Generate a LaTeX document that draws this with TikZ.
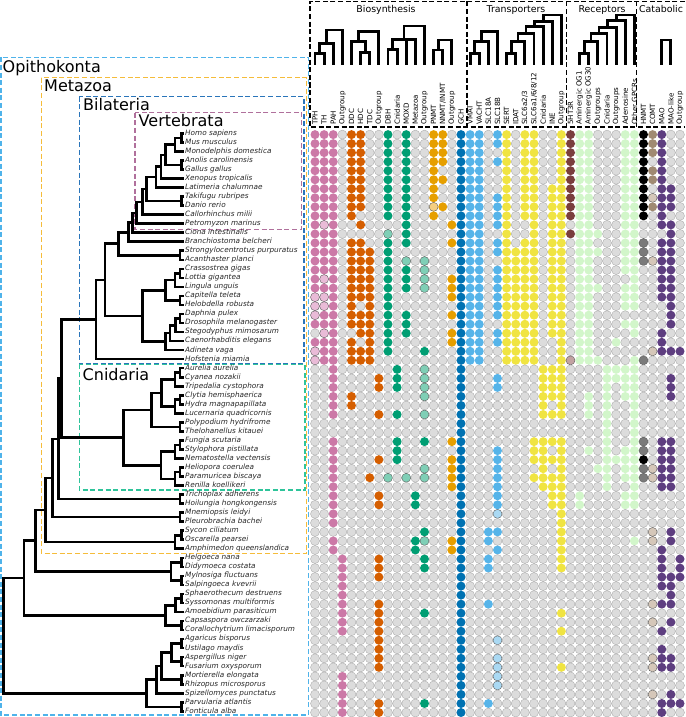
\documentclass[tikz,border=0pt]{standalone}
\usepackage{fontspec}
\setmainfont{DejaVu Sans}
\definecolor{cP}{HTML}{CC79A7}
\definecolor{cp}{HTML}{E9BBD7}
\definecolor{cO}{HTML}{D55E00}
\definecolor{cG}{HTML}{009E73}
\definecolor{cg}{HTML}{7FCFB6}
\definecolor{cY}{HTML}{E69F00}
\definecolor{cy}{HTML}{F4CE80}
\definecolor{cB}{HTML}{0072B2}
\definecolor{cL}{HTML}{56B4E9}
\definecolor{cl}{HTML}{AAD9F3}
\definecolor{cE}{HTML}{F0E442}
\definecolor{cR}{HTML}{7A3E3E}
\definecolor{cr}{HTML}{C2A2A2}
\definecolor{cV}{HTML}{D2F6CA}
\definecolor{ck}{HTML}{7A7A7A}
\definecolor{cT}{HTML}{A08A72}
\definecolor{ct}{HTML}{D5C7B9}
\definecolor{cU}{HTML}{5E3E80}
\definecolor{cgray}{HTML}{DCDCDC}
\definecolor{cedge}{HTML}{A9A9A9}
\definecolor{cedge2}{HTML}{5A5A5A}
\definecolor{bopi}{HTML}{4FB3EA}
\definecolor{bmet}{HTML}{F5BC3A}
\definecolor{bbil}{HTML}{2A75BA}
\definecolor{bver}{HTML}{B0709C}
\definecolor{bcni}{HTML}{2EC49A}
\newcount\gcol
\newcommand\gridrow[2]{\gcol=0 \def\growidx{#1}\gridchars#2\relax}
\def\gridchars#1{\ifx\relax#1\else\advance\gcol by 1\relax\gridcell{#1}\expandafter\gridchars\fi}
\def\gridcell#1{%
  \pgfmathsetmacro\gcx{315+(\the\gcol-1)*9.125}%
  \pgfmathsetmacro\gcy{134.6+(\growidx-1)*9.03}%
  \path[cell#1] (\gcx,\gcy) circle[radius=4.5];}
\newcommand\leaf[3]{%
  \pgfmathsetmacro\ly{133.4+(#2-1)*9.03}%
  \expandafter\xdef\csname ty@#1\endcsname{\ly}%
  \coordinate (t#1) at (184,\ly);
  \node[sp] (#1) at (185,\ly) {#3};}
\newcommand\clade[4]{%
  \pgfmathsetmacro\cly{(\csname ty@#3\endcsname+\csname ty@#4\endcsname)/2}%
  \expandafter\xdef\csname ty@#1\endcsname{\cly}%
  \coordinate (t#1) at (#2,\cly);
  \draw[treeline] (t#3) -| (t#1) |- (t#4);}
\newcommand\hclade[4]{%
  \pgfmathsetmacro\hcx{(\csname hx@#3\endcsname+\csname hx@#4\endcsname)/2}%
  \expandafter\xdef\csname hx@#1\endcsname{\hcx}%
  \coordinate (h#1) at (\hcx,#2);
  \draw[htree] (h#3) |- (h#1) -| (h#4);}
\begin{document}
\begin{tikzpicture}[x=1pt,y=-1pt,
  treeline/.style={line width=2.6pt,line join=miter},
  htree/.style={line width=2.8pt,line join=miter},
  box/.style={line width=1.5pt,dash pattern=on 5pt off 2.6pt},
  sp/.style={anchor=west,inner sep=0pt,font=\fontsize{7.3}{8}\selectfont\itshape,text height=5.3pt,text depth=1.5pt,text=black!85},
  cladelab/.style={anchor=base west,inner sep=0pt,font=\fontsize{16}{18}\selectfont},
  collab/.style={rotate=90,anchor=west,inner sep=0pt,font=\fontsize{7.1}{8}\selectfont},
  grouptitle/.style={anchor=base,inner sep=0pt,font=\fontsize{9.4}{11}\selectfont},
  cell-/.style={fill=cgray,draw=cedge,line width=0.35pt},
  cellP/.style={fill=cP},
  cellp/.style={fill=cp,draw=cedge2,line width=0.4pt},
  cellO/.style={fill=cO},
  cellG/.style={fill=cG},
  cellg/.style={fill=cg,draw=cedge2,line width=0.4pt},
  cellY/.style={fill=cY},
  celly/.style={fill=cy,draw=cedge2,line width=0.4pt},
  cellB/.style={fill=cB},
  cellL/.style={fill=cL},
  celll/.style={fill=cl,draw=cedge2,line width=0.4pt},
  cellE/.style={fill=cE},
  cellR/.style={fill=cR},
  cellr/.style={fill=cr,draw=cedge2,line width=0.4pt},
  cellV/.style={fill=cV},
  cellK/.style={fill=black},
  cellk/.style={fill=ck,draw=cedge2,line width=0.4pt},
  cellT/.style={fill=cT},
  cellt/.style={fill=ct,draw=cedge2,line width=0.4pt},
  cellU/.style={fill=cU}]
\useasboundingbox (0,0) rectangle (685,717);
% clade boxes
\draw[box,bopi] (1,57.3) rectangle (308.3,715);
\draw[box,bmet] (41.3,77.7) rectangle (306.7,553.3);
\draw[box,bbil] (79.3,96.7) rectangle (304,364);
\draw[box,bver] (135,112.7) rectangle (301.7,229.3);
\draw[box,bcni] (79.3,364.3) rectangle (305,490);
\node[cladelab] (lopi) at (2.5,72.3) {Opithokonta};
\node[cladelab] (lmet) at (44,91) {Metazoa};
\node[cladelab] (lbil) at (83,110) {Bilateria};
\node[cladelab] (lver) at (138.5,126.7) {Vertebrata};
\node[cladelab] (lcni) at (82.5,380) {Cnidaria};
% leaves
\leaf{homo}{1}{Homo sapiens}
\leaf{mus}{2}{Mus musculus}
\leaf{mono}{3}{Monodelphis domestica}
\leaf{anolis}{4}{Anolis carolinensis}
\leaf{gallus}{5}{Gallus gallus}
\leaf{xeno}{6}{Xenopus tropicalis}
\leaf{lati}{7}{Latimeria chalumnae}
\leaf{taki}{8}{Takifugu rubripes}
\leaf{danio}{9}{Danio rerio}
\leaf{callo}{10}{Callorhinchus milii}
\leaf{petro}{11}{Petromyzon marinus}
\leaf{ciona}{12}{Ciona intestinalis}
\leaf{branch}{13}{Branchiostoma belcheri}
\leaf{strong}{14}{Strongylocentrotus purpuratus}
\leaf{acan}{15}{Acanthaster planci}
\leaf{crass}{16}{Crassostrea gigas}
\leaf{lottia}{17}{Lottia gigantea}
\leaf{lingula}{18}{Lingula unguis}
\leaf{capit}{19}{Capitella teleta}
\leaf{helob}{20}{Helobdella robusta}
\leaf{daph}{21}{Daphnia pulex}
\leaf{dros}{22}{Drosophila melanogaster}
\leaf{steg}{23}{Stegodyphus mimosarum}
\leaf{caeno}{24}{Caenorhabditis elegans}
\leaf{adin}{25}{Adineta vaga}
\leaf{hofst}{26}{Hofstenia miamia}
\leaf{aurelia}{27}{Aurelia aurelia}
\leaf{cyanea}{28}{Cyanea nozakii}
\leaf{tripe}{29}{Tripedalia cystophora}
\leaf{clytia}{30}{Clytia hemisphaerica}
\leaf{hydra}{31}{Hydra magnapapillata}
\leaf{lucern}{32}{Lucernaria quadricornis}
\leaf{polyp}{33}{Polypodium hydrifrome}
\leaf{thelo}{34}{Thelohanellus kitauei}
\leaf{fungia}{35}{Fungia scutaria}
\leaf{stylo}{36}{Stylophora pistillata}
\leaf{nemato}{37}{Nematostella vectensis}
\leaf{helio}{38}{Heliopora coerulea}
\leaf{param}{39}{Paramuricea biscaya}
\leaf{renilla}{40}{Renilla koellikeri}
\leaf{trich}{41}{Trichoplax adherens}
\leaf{hoil}{42}{Hoilungia hongkongensis}
\leaf{mnem}{43}{Mnemiopsis leidyi}
\leaf{pleuro}{44}{Pleurobrachia bachei}
\leaf{sycon}{45}{Sycon ciliatum}
\leaf{oscar}{46}{Oscarella pearsei}
\leaf{amph}{47}{Amphimedon queenslandica}
\leaf{helg}{48}{Helgoeca nana}
\leaf{didy}{49}{Didymoeca costata}
\leaf{myln}{50}{Mylnosiga fluctuans}
\leaf{salp}{51}{Salpingoeca kvevrii}
\leaf{sphaer}{52}{Sphaerothecum destruens}
\leaf{syss}{53}{Syssomonas multiformis}
\leaf{amoeb}{54}{Amoebidium parasiticum}
\leaf{caps}{55}{Capsaspora owczarzaki}
\leaf{coral}{56}{Corallochytrium limacisporum}
\leaf{agar}{57}{Agaricus bisporus}
\leaf{ust}{58}{Ustilago maydis}
\leaf{asp}{59}{Aspergillus niger}
\leaf{fus}{60}{Fusarium oxysporum}
\leaf{mort}{61}{Mortierella elongata}
\leaf{rhiz}{62}{Rhizopus microsporus}
\leaf{spiz}{63}{Spizellomyces punctatus}
\leaf{parv}{64}{Parvularia atlantis}
\leaf{font}{65}{Fonticula alba}
% tree
\clade{hm}{181.7}{homo}{mus}
\clade{mam}{175}{hm}{mono}
\clade{ag}{181.7}{anolis}{gallus}
\clade{amn}{165.7}{mam}{ag}
\clade{tet}{161}{amn}{xeno}
\clade{sar}{156}{tet}{lati}
\clade{td}{181.7}{taki}{danio}
\clade{ost}{146.7}{sar}{td}
\clade{gna}{142.3}{ost}{callo}
\clade{ver}{136.7}{gna}{petro}
\clade{olf}{132.7}{ver}{ciona}
\clade{cho}{128.3}{olf}{branch}
\clade{ech}{180}{strong}{acan}
\clade{deu}{118.3}{cho}{ech}
\clade{cl}{180}{crass}{lottia}
\clade{moll}{175}{cl}{lingula}
\clade{ann}{180}{capit}{helob}
\clade{lop}{165.7}{moll}{ann}
\clade{dd}{180}{daph}{dros}
\clade{arth}{175.7}{dd}{steg}
\clade{ecd}{170}{arth}{caeno}
\clade{ecr}{165.7}{ecd}{adin}
\clade{pro}{142.7}{lop}{ecr}
\clade{bil}{105}{deu}{pro}
\clade{bilx}{96}{bil}{hofst}
\clade{ac}{180}{aurelia}{cyanea}
\clade{scy}{175}{ac}{tripe}
\clade{ch}{180}{clytia}{hydra}
\clade{hyz}{175}{ch}{lucern}
\clade{sh}{161.7}{scy}{hyz}
\clade{myx}{180}{polyp}{thelo}
\clade{med}{151.7}{sh}{myx}
\clade{fs}{180}{fungia}{stylo}
\clade{hex}{175}{fs}{nemato}
\clade{hp}{180}{helio}{param}
\clade{oct}{175}{hp}{renilla}
\clade{ant}{161}{hex}{oct}
\clade{cni}{123.3}{med}{ant}
\clade{pla}{61.7}{bilx}{cni}
\clade{plac}{180}{trich}{hoil}
\clade{pp}{58.3}{pla}{plac}
\clade{cten}{180}{mnem}{pleuro}
\clade{pc}{52.7}{pp}{cten}
\clade{so}{181.7}{sycon}{oscar}
\clade{por}{175}{so}{amph}
\clade{met}{45.7}{pc}{por}
\clade{hd}{181.7}{helg}{didy}
\clade{ms}{181.7}{myln}{salp}
\clade{choa}{171}{hd}{ms}
\clade{chz}{35.7}{met}{choa}
\clade{ss}{181.7}{sphaer}{syss}
\clade{ich}{175.7}{ss}{amoeb}
\clade{cc}{181.7}{caps}{coral}
\clade{fil}{165.7}{ich}{cc}
\clade{hol}{24}{chz}{fil}
\clade{au}{181.7}{agar}{ust}
\clade{af}{181.7}{asp}{fus}
\clade{dik}{171.7}{au}{af}
\clade{mr}{181.7}{mort}{rhiz}
\clade{fm}{161.7}{dik}{mr}
\clade{fun}{156.7}{fm}{spiz}
\clade{pf}{181.7}{parv}{font}
\clade{hmy}{146.7}{fun}{pf}
\clade{root}{3.3}{hol}{hmy}
% header boxes
\draw[box,black] (685,1.5) -- (310,1.5) -- (310,127) -- (685,127);
\draw[box,black] (467,1.5) -- (467,127);
\draw[box,black] (566.7,1.5) -- (566.7,127);
\draw[box,black] (636.7,1.5) -- (636.7,127);
\node[grouptitle] (tbio) at (386,12.7) {Biosynthesis};
\node[grouptitle] (ttra) at (516,12.7) {Transporters};
\node[grouptitle] (trec) at (602,12.7) {Receptors};
\node[grouptitle] (tcat) at (661,12.7) {Catabolic};
% header leaves and labels
\foreach \c/\t in {1/{TPH},2/{TH},3/{PAH},4/{Outgroup},5/{DDC},6/{HDC},7/{TDC},8/{Outgroup},9/{DBH},10/{Cnidaria},11/{MOXD},12/{Metazoa},13/{Outgroup},14/{PNMT},15/{NNMT/INMT},16/{Outgroup},17/{GCH},18/{VMAT},19/{VACHT},20/{SLC18A},21/{SLC18B},22/{SERT},23/{IDAT},24/{SLC6a2/3},25/{SLC6a1/6/8/12},26/{Cnidaria},27/{INE},28/{Outgroup},29/{5HT3R},30/{Aminergic OG1},31/{Aminergic OG30},32/{Outgroups},33/{Cnidaria},34/{Outgroups},35/{Adenosine},36/{Other GPCRs},37/{HNMT},38/{COMT},39/{MAO},40/{MAO-like},41/{Outgroup}}{
  \pgfmathsetmacro\hx{315+(\c-1)*9.125}
  \expandafter\xdef\csname hx@c\c\endcsname{\hx}
  \coordinate (hc\c) at (\hx,65);
  \node[collab] (lab\c) at (\hx,125) {\t};
}
\hclade{a1}{53.3}{c1}{c2}
\hclade{a2}{43.3}{a1}{c3}
\hclade{a3}{30}{a2}{c4}
\hclade{b1}{52.7}{c6}{c7}
\hclade{b2}{41.7}{c5}{b1}
\hclade{b3}{31.7}{b2}{c8}
\hclade{d1}{49.3}{c9}{c10}
\hclade{d3}{39.3}{d1}{c12}
\draw[htree] (hc11) -- (hc11 |- hd3);
\hclade{d4}{26}{d3}{c13}
\hclade{e1}{50}{c14}{c15}
\hclade{e2}{40}{e1}{c16}
\hclade{f1}{53.3}{c18}{c19}
\hclade{f2}{41.7}{f1}{c20}
\hclade{f3}{31.7}{f2}{c21}
\hclade{g1}{53.3}{c22}{c23}
\hclade{g2}{41.7}{g1}{c24}
\hclade{g3}{33.3}{g2}{c25}
\hclade{g4}{26.7}{g3}{c26}
\hclade{g5}{21.7}{g4}{c27}
\hclade{g6}{15}{g5}{c28}
\hclade{r1}{53.3}{c30}{c31}
\hclade{r2}{41.7}{r1}{c32}
\hclade{r3}{33.3}{r2}{c33}
\hclade{r4}{27.3}{r3}{c34}
\hclade{r5}{20.7}{r4}{c35}
\hclade{r6}{15}{r5}{c36}
\hclade{m1}{40}{c39}{c40}
% grid
\gridrow{1}{PPP-OO--G-G--YY-BLL-LE-EE--ERVV---VVKTU--}
\gridrow{2}{PPP-OO--G-G--YY-BLL-LE-EE--ERVV---VVKTU--}
\gridrow{3}{PPP-OO--G-G--YY-BLL--E-EE--ERVV---VVKTU--}
\gridrow{4}{PPP-OO--G-G--YY-BLL-LE-EE--ERVV---VVK-U--}
\gridrow{5}{PPP-OO--G-G--Y--BLL--E-EE--ERVV---VVKTU--}
\gridrow{6}{PPP-OO--G-G--YY-BLL--E-EE--ERVV---VVKTU--}
\gridrow{7}{PPP-OO--G-G--Y--BLL--E-EE-EERVV---VVK-UU-}
\gridrow{8}{PPP-OO--G-G--Y--BLL-LE-EE-EERVV---VVKtUU-}
\gridrow{9}{PPP-OO--G-G--yY-BLL-LE-EE-EERVV---VVKTUU-}
\gridrow{10}{PPP-O---G-G--Y--BLL-LE-EE-EERVV---VVK-U--}
\gridrow{11}{PpP--O----G----YBLL-LE--E-EE-VV---VV--UU-}
\gridrow{12}{PPP-----g-G-----BLL--E--E-EERVVV--VV---U-}
\gridrow{13}{PPP-OO--G-G----YBLL-LE-EE-EE-VV---VVk-UU-}
\gridrow{14}{PPP-OOO-G-------BLL-LEEEE-EE-VVV--VVk-UU-}
\gridrow{15}{PPP-OOO-G-g-g---BLL--EEEE-EE-VV---VVktUU-}
\gridrow{16}{PPP-OOO-G-G-g---BLL-LEEEE-EE-VV---VV--UU-}
\gridrow{17}{PpP-OOO-G-G-g--YBLL-LEEEE-EE-VV----V--UU-}
\gridrow{18}{PPP-OOO-G-G-g--YBLL-LEEEE-EE-VVV--VV--UU-}
\gridrow{19}{ppP-OOO-G------YBLL-LEEEE-EE-VV---VV--UU-}
\gridrow{20}{ppP-O-O-G-------BLL-LEEEE-EE-VV---VV---U-}
\gridrow{21}{pPP-OOO-G-G----YBLL-LEEEE-EE-VV--------U-}
\gridrow{22}{PPP-OOO-G-G-----BLL--EEEE-EE-VV---VV---U-}
\gridrow{23}{-pP--OO-G-G----YBLL-LEEEE-EE-VV----V--U--}
\gridrow{24}{PPP-O-O-G------YBLL-LEEEE--E-VV--V----U--}
\gridrow{25}{pPP-OOO-G---G---BLL--EEEE--E-VV------tUUU}
\gridrow{26}{pPP-OOO---------BLL--EEEE--ErVVV---Vk----}
\gridrow{27}{--P------G--g---B--------EEE----VVVV-----}
\gridrow{28}{--P----O-G--g---B---L----EEE----VVVV---U-}
\gridrow{29}{--P----O-G--g---B---L----EEE----V-VV---U-}
\gridrow{30}{--P-O-------g---B--------EEE--V-V-VV---U-}
\gridrow{31}{--P-O-----------B--------E-E--V-V--V-----}
\gridrow{32}{--P----O-G--g---B--------EEE--V-V--V-----}
\gridrow{33}{----------------B---------------V--V-----}
\gridrow{34}{----------------B---------------V--V-----}
\gridrow{35}{--P------G--G--YB-------EEEE----V--Vk-UU-}
\gridrow{36}{--P------G------B---L---EE-E--V-V-VVk-UU-}
\gridrow{37}{--P----O-G-----YB---L---EEEE----VVVVK-UU-}
\gridrow{38}{--P---------g--YB---L----E-E---VV-VVktUU-}
\gridrow{39}{--P---O-g-g-g--YB---L---EEEE----V-VVktUU-}
\gridrow{40}{--P------------YB---L----EEE----V--V--UU-}
\gridrow{41}{--P----O---G----B---L-----EE-V----VV-----}
\gridrow{42}{--P----O---G----B---L-----EE-V----VV-----}
\gridrow{43}{--P-------------B---l------E-------------}
\gridrow{44}{--P-------------B----------E-------------}
\gridrow{45}{------------G---B--LL------E---------t-U-}
\gridrow{46}{--P--------Gg--YB--L-------E-------V-t-U-}
\gridrow{47}{--P--------G---YB---L------E----------U--}
\gridrow{48}{---P---O----G---B--L-------E----------U-U}
\gridrow{49}{---P---O----G---B--L-------E----------U-U}
\gridrow{50}{---P---O--------B---------------------UUU}
\gridrow{51}{---P------------B---------------------UU-}
\gridrow{52}{---P------------B----------------------U-}
\gridrow{53}{---P---O--------B--L-----------------tUU-}
\gridrow{54}{---P---O----G---B----------E-------------}
\gridrow{55}{---P---O--------B--------------------t-U-}
\gridrow{56}{---P---O--------B----------E----------U--}
\gridrow{57}{-------O--------B---l--------------------}
\gridrow{58}{-------O--------B---------------------U--}
\gridrow{59}{-------O--------B---l----------------tUU-}
\gridrow{60}{-------O--------B---l------E---------tUU-}
\gridrow{61}{---P------------B---l--------------------}
\gridrow{62}{---P------------B---l--------------------}
\gridrow{63}{---P------------B--------------------t-U-}
\gridrow{64}{---P---O----G---B--L------------------UUU}
\gridrow{65}{---P---O--------B---------------------U--}
\end{tikzpicture}
\end{document}
